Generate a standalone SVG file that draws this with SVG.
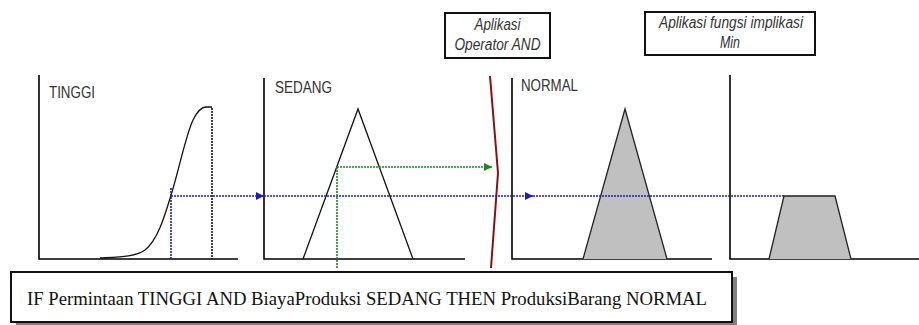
<svg xmlns="http://www.w3.org/2000/svg" width="919" height="325" viewBox="0 0 919 325">
<style>
.axis{fill:none;stroke:#000;stroke-width:1.6}
.mf{fill:none;stroke:#111;stroke-width:1.3}
.mfg{fill:#c0c0c0;stroke:#222;stroke-width:1.3}
.lbl{font-family:"Liberation Sans",Arial,sans-serif;font-size:17px;fill:#333}
.note{font-family:"Liberation Sans",Arial,sans-serif;font-size:16px;font-style:italic;fill:#333;text-anchor:middle}
.rule{font-family:"Liberation Serif","Times New Roman",serif;font-size:18px;fill:#111}
.blue{fill:none;stroke:#1a1acc;stroke-width:1.6;stroke-dasharray:2 1}
.green{fill:none;stroke:#1a8a1a;stroke-width:1.6;stroke-dasharray:2 1}
.blk{fill:none;stroke:#111;stroke-width:1.6;stroke-dasharray:2 1}
.box{fill:#fff;stroke:#111;stroke-width:2}
</style>
<defs>
<marker id="ab" markerWidth="8" markerHeight="8" refX="8" refY="4" orient="auto" markerUnits="userSpaceOnUse"><path d="M0,0 L8,4 L0,8 Z" fill="#1a1acc"/></marker>
<marker id="ag" markerWidth="8" markerHeight="8" refX="8" refY="4" orient="auto" markerUnits="userSpaceOnUse"><path d="M0,0 L8,4 L0,8 Z" fill="#1a8a1a"/></marker>
</defs>

<g id="note-and">
<rect class="box" x="445" y="13" width="105" height="45"/>
<text class="note" x="497.5" y="30" textLength="46" lengthAdjust="spacingAndGlyphs">Aplikasi</text>
<text class="note" x="497.5" y="50" textLength="86" lengthAdjust="spacingAndGlyphs">Operator AND</text>
</g>

<g id="note-min">
<rect class="box" x="645" y="12" width="170" height="43"/>
<text class="note" x="731" y="28" textLength="144" lengthAdjust="spacingAndGlyphs">Aplikasi fungsi implikasi</text>
<text class="note" x="730" y="48" textLength="20" lengthAdjust="spacingAndGlyphs">Min</text>
</g>

<g id="panel-tinggi">
<path class="axis" d="M39,75 V259 H238"/>
<text class="lbl" x="49" y="98" textLength="46" lengthAdjust="spacingAndGlyphs">TINGGI</text>
<path class="mf" d="M100,258 C120,257 135,257 145,250 C158,240 165,215 172,192 C180,165 186,135 193,120 C197,112 201,107 206,107 L212,107"/>
</g>

<g id="panel-sedang">
<path class="axis" d="M264,78 V259 H465"/>
<text class="lbl" x="275" y="93" textLength="57" lengthAdjust="spacingAndGlyphs">SEDANG</text>
<path class="mf" d="M303,259 L358,109 L413,259"/>
</g>

<g id="panel-normal">
<path class="axis" d="M512,78 V259 H712"/>
<text class="lbl" x="521" y="91" textLength="57" lengthAdjust="spacingAndGlyphs">NORMAL</text>
<path class="mfg" d="M583,259 L625,109 L667,259"/>
</g>

<g id="panel-result">
<path class="axis" d="M730,75 V259 H919"/>
<path class="mfg" d="M769,259 L784,196 L835,196 L851,259"/>
</g>

<g id="operator">
<path d="M490,76 L498,173 L491,268" fill="none" stroke="#8b1010" stroke-width="2"/>
</g>

<g id="connectors">
<path class="blk" d="M212,108 V259"/>
<path class="blue" d="M171,188 V259"/>
<path class="blue" d="M171,196 H264" marker-end="url(#ab)"/>
<path class="blue" d="M264,196 H533" marker-end="url(#ab)"/>
<path class="blue" d="M533,196 H784"/>
<path class="green" d="M337,268 V167"/>
<path class="green" d="M337,167 H492" marker-end="url(#ag)"/>
</g>

<g id="rule">
<rect x="16" y="277" width="721" height="48" fill="#808080"/>
<rect class="box" x="11" y="272" width="721" height="50"/>
<text class="rule" x="27" y="305" textLength="680" lengthAdjust="spacingAndGlyphs">IF Permintaan TINGGI AND BiayaProduksi SEDANG THEN ProduksiBarang NORMAL</text>
</g>
</svg>
